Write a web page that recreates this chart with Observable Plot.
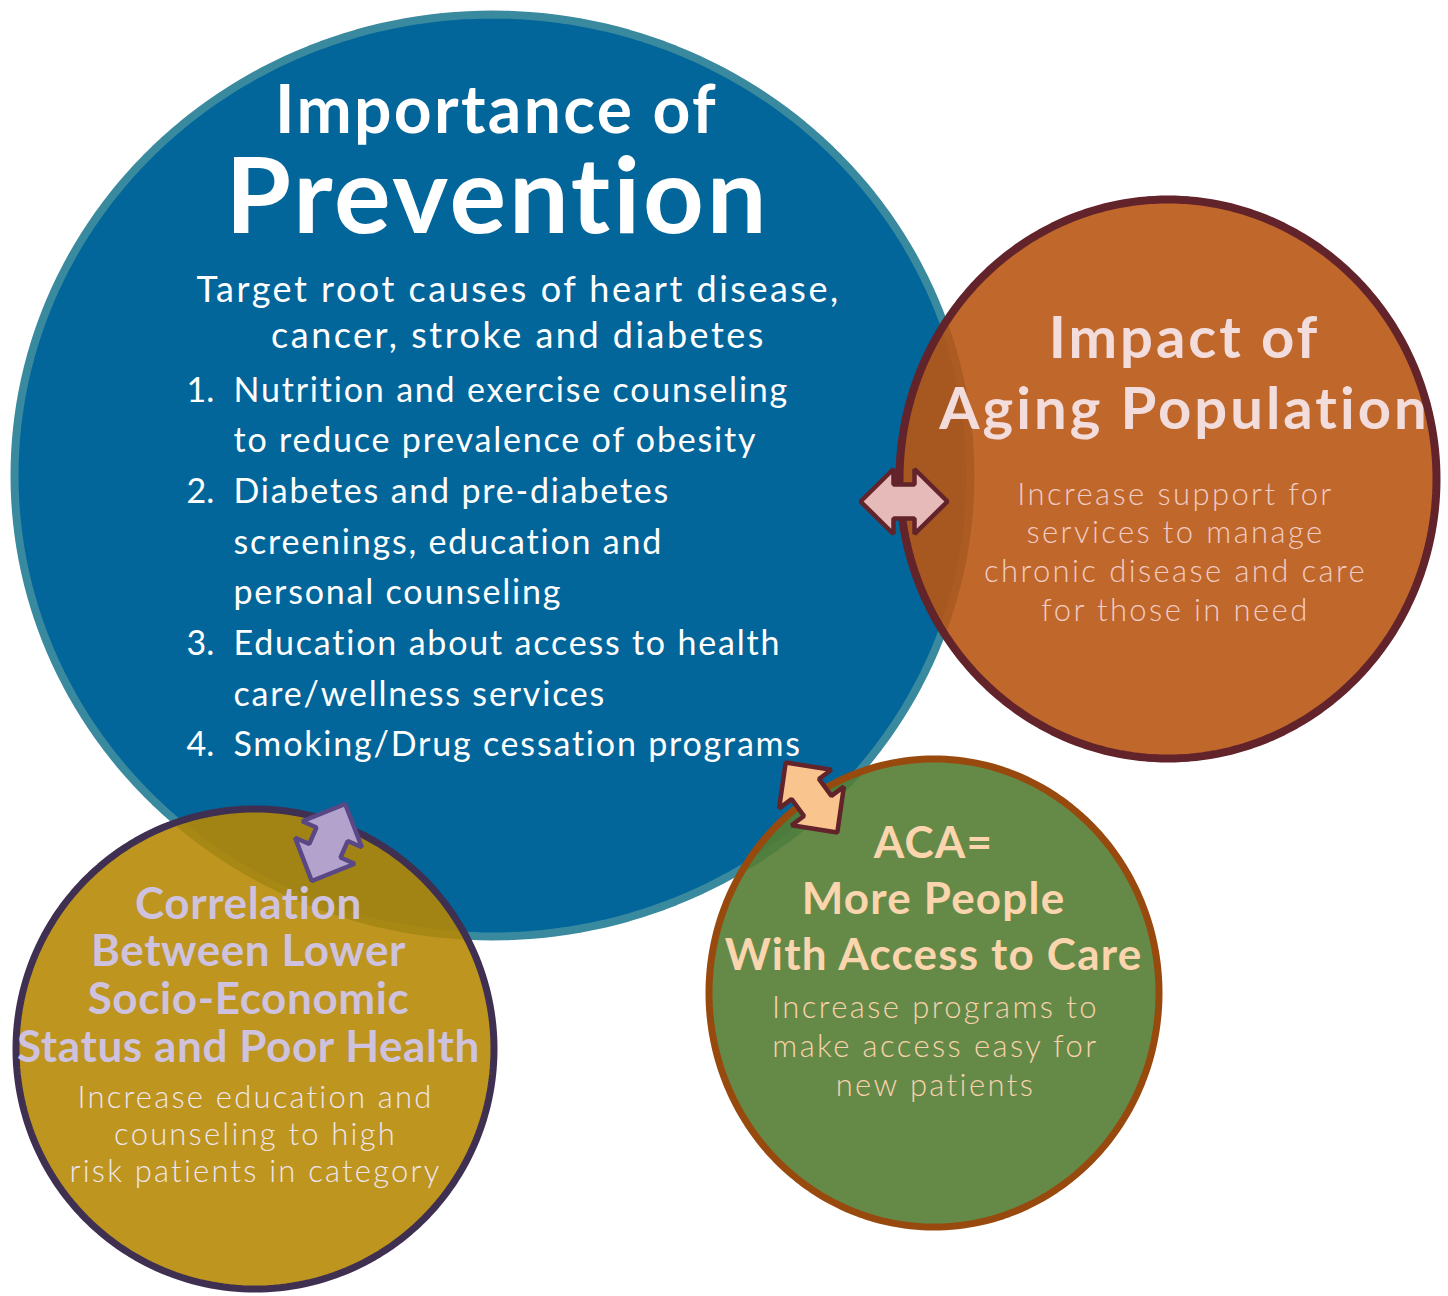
<!DOCTYPE html>
<html>
<head>
<meta charset="utf-8">
<script src="https://cdn.jsdelivr.net/npm/d3@7"></script>
<script src="https://cdn.jsdelivr.net/npm/@observablehq/plot@0.6"></script>
<style>
  html, body { margin: 0; padding: 0; background: #ffffff; }
  #chart svg { display: block; }
</style>
</head>
<body>
<div id="chart"></div>
<script>
// ---------------- DATA (text content) ----------------
const preventionTitle = ["Importance of", "Prevention"];
const preventionIntro = ["Target root causes of heart disease,", "cancer, stroke and diabetes"];
const preventionNumbers = ["1.", "2.", "3.", "4."];
const preventionItems = [
  ["Nutrition and exercise counseling", "to reduce prevalence of obesity"],
  ["Diabetes and pre-diabetes", "screenings, education and", "personal counseling"],
  ["Education about access to health", "care/wellness services"],
  ["Smoking/Drug cessation programs"]
];
const agingTitle = ["Impact of", "Aging Population"];
const agingText = ["Increase support for", "services to manage", "chronic disease and care", "for those in need"];
const acaTitle = ["ACA=", "More People", "With Access to Care"];
const acaText = ["Increase programs to", "make access easy for", "new patients"];
const sesTitle = ["Correlation", "Between Lower", "Socio-Economic", "Status and Poor Health"];
const sesText = ["Increase education and", "counseling to high", "risk patients in category"];

// bubble ids with centres and radii (diagram units)
const bubbleIds = ["prevention", "aging", "ses", "aca"];
const bubbleCx = [492, 1167.5, 254.5, 933.5];
const bubbleCy = [475, 478.5, 1048.5, 992.5];
const bubbleRx = [478, 268.5, 239, 225];
const bubbleRy = [461, 279.5, 240, 234];

// connector arrows: centre, direction (degrees), length
const arrowIds = ["prevention-aging", "prevention-aca", "prevention-ses"];
const arrowCx = [903.5, 811, 328];
const arrowCy = [501, 797, 842];
const arrowAngle = [0, 53.6, 113.5];
const arrowLength = [87, 87, 84];

// ---------------- STYLES ----------------
const bubbleStyle = {
  prevention: {fill: "#02669b", stroke: "#3a8a9f", sw: 8, op: 1},
  aging: {fill: "#b95614", stroke: "#62232a", sw: 8, op: 0.9},
  ses: {fill: "#b58803", stroke: "#3f3052", sw: 7, op: 0.89},
  aca: {fill: "#547d34", stroke: "#984a0e", sw: 7, op: 0.9}
};
const arrowStyle = [
  {fill: "#e7baba", stroke: "#62232a"},
  {fill: "#fac48f", stroke: "#62232a"},
  {fill: "#b3a3cc", stroke: "#5a4886"}
];

function ellipsePoints(id, cx, cy, rx, ry, n = 240) {
  return d3.range(n).map(k => {
    const t = 2 * Math.PI * k / n;
    return {id, x: cx + rx * Math.cos(t), y: cy + ry * Math.sin(t)};
  });
}

function arrowPolygon(id, cx, cy, angleDeg, L) {
  const H = 65, S = 34, h = 33;
  const a = angleDeg * Math.PI / 180, ux = Math.cos(a), uy = Math.sin(a);
  const local = [
    [-L / 2, 0], [-L / 2 + h, -H / 2], [-L / 2 + h, -S / 2], [L / 2 - h, -S / 2], [L / 2 - h, -H / 2],
    [L / 2, 0], [L / 2 - h, H / 2], [L / 2 - h, S / 2], [-L / 2 + h, S / 2], [-L / 2 + h, H / 2]
  ];
  return local.map(([lx, ly]) => ({id, x: cx + lx * ux - ly * uy, y: cy + lx * uy + ly * ux}));
}

const FONT = "Lato";
const spacing = new Map(); // text line -> letter spacing (px)
function textBlock(lines, {x, y0, dy, size, weight = 400, fill, anchor = "middle", letter = 0}) {
  for (const l of lines) spacing.set(l, letter);
  return Plot.text(lines, {
    x: () => x, y: (d, i) => y0 + i * dy, text: d => d,
    fontSize: size, fontWeight: weight, fill, textAnchor: anchor,
    lineAnchor: "bottom", fontFamily: FONT
  });
}

// list rows
const listRows = [];
preventionItems.forEach((item, k) => item.forEach((line, j) => listRows.push({num: j === 0 ? preventionNumbers[k] : "", line})));
for (const r of listRows) spacing.set(r.line, 1.8);

const marks = [];
bubbleIds.forEach((id, i) => {
  const s = bubbleStyle[id];
  const pts = ellipsePoints(id, bubbleCx[i], bubbleCy[i], bubbleRx[i], bubbleRy[i]);
  marks.push(Plot.line(pts, {x: "x", y: "y", curve: "linear-closed", fill: s.fill, fillOpacity: s.op, stroke: s.stroke, strokeWidth: s.sw}));
});
arrowIds.forEach((id, i) => {
  const pts = arrowPolygon(id, arrowCx[i], arrowCy[i], arrowAngle[i], arrowLength[i]);
  marks.push(Plot.line(pts, {x: "x", y: "y", curve: "linear-closed", fill: arrowStyle[i].fill, stroke: arrowStyle[i].stroke, strokeWidth: 4.5, strokeLinejoin: "miter"}));
});

// Prevention bubble text
marks.push(textBlock([preventionTitle[0]], {x: 496, y0: 132, dy: 0, size: 66, weight: 700, fill: "#ffffff", letter: 2.3}));
marks.push(textBlock([preventionTitle[1]], {x: 497, y0: 232, dy: 0, size: 106, weight: 700, fill: "#ffffff", letter: 2.9}));
marks.push(textBlock(preventionIntro, {x: 518, y0: 301, dy: 46, size: 36, fill: "#ffffff", letter: 2.5}));
marks.push(Plot.text(listRows, {x: () => 186, y: (d, i) => 401 + i * 50.7, text: "num", fontSize: 34, fill: "#ffffff", textAnchor: "start", lineAnchor: "bottom", fontFamily: FONT}));
marks.push(Plot.text(listRows, {x: () => 233, y: (d, i) => 401 + i * 50.7, text: "line", fontSize: 34, fill: "#ffffff", textAnchor: "start", lineAnchor: "bottom", fontFamily: FONT}));

// Aging bubble
marks.push(textBlock(agingTitle, {x: 1184, y0: 357, dy: 71, size: 58, weight: 700, fill: "#f3dcdc", letter: 3}));
marks.push(textBlock(agingText, {x: 1175, y0: 504, dy: 38.8, size: 31, weight: 300, fill: "#f1cbc4", letter: 2.4}));

// ACA bubble
marks.push(textBlock(acaTitle, {x: 933, y0: 857, dy: 56, size: 44, weight: 700, fill: "#fbd5ae", letter: 1.2}));
marks.push(textBlock(acaText, {x: 935, y0: 1017, dy: 39, size: 31, weight: 300, fill: "#f9d2ac", letter: 2.4}));

// SES bubble
marks.push(textBlock(sesTitle, {x: 248, y0: 918, dy: 47.7, size: 44, weight: 700, fill: "#cfc2de", letter: 0.6}));
marks.push(textBlock(sesText, {x: 255, y0: 1107, dy: 37, size: 31, weight: 300, fill: "#efe5ec", letter: 2.2}));

const chart = Plot.plot({
  width: 1448,
  height: 1296,
  margin: 0,
  x: {domain: [0, 1448], range: [0, 1448], axis: null},
  y: {domain: [0, 1296], range: [0, 1296], axis: null},
  style: {background: "#ffffff", fontFamily: FONT},
  marks
});
d3.select(chart).selectAll("text").each(function () {
  const ls = spacing.get(this.textContent);
  if (ls) this.setAttribute("letter-spacing", ls);
});
document.getElementById("chart").appendChild(chart);
</script>
</body>
</html>
